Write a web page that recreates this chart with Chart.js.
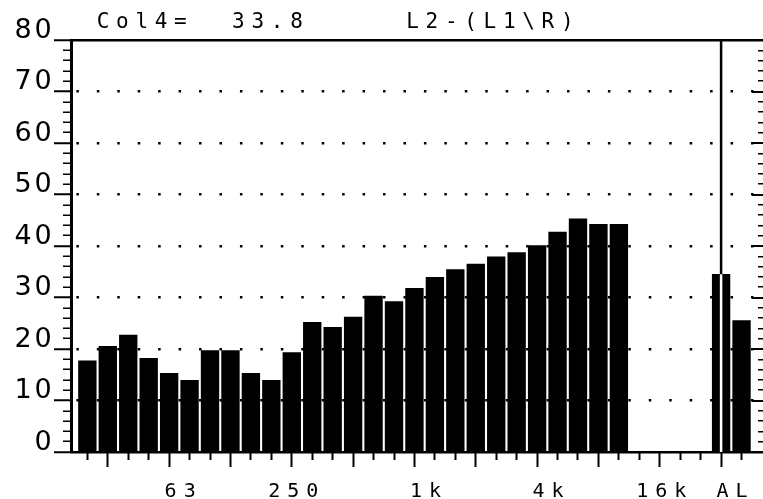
<!DOCTYPE html>
<html>
<head>
<meta charset="utf-8">
<script src="https://cdn.jsdelivr.net/npm/chart.js@4/dist/chart.umd.min.js"></script>
<style>
  html, body { margin: 0; padding: 0; background: #fff; }
  #c { display: block; }
</style>
</head>
<body>
<canvas id="c" width="763" height="499" style="width:763px;height:499px"></canvas>
<script>
// ---- data ----
const bands = ['25','31.5','40','50','63','80','100','125','160','200','250','315','400','500','630','800',
               '1k','1.25k','1.6k','2k','2.5k','3.15k','4k','5k','6.3k','8k','10k','12.5k','16k','20k','','A','L'];
const levels = [17.7, 20.5, 22.7, 18.2, 15.3, 13.9, 19.7, 19.7, 15.3, 13.9, 19.3, 25.2, 24.2, 26.2, 30.3, 29.2,
                31.8, 33.9, 35.4, 36.5, 37.9, 38.7, 40.1, 42.7, 45.3, 44.2, 44.2, null, null, null, null, 34.5, 25.5];
const labeledBands = ['63', '250', '1k', '4k', '16k', 'A'];
const labelTexts = [' 63', '250', ' 1k', ' 4k', '16k', ' AL'];
const longTickBands = ['31.5','63','125','250','500','1k','2k','4k','8k','16k','A'];
const yMin = 0, yMax = 80, yStep = 2, yLabelStep = 10;
const cursorBand = 'A';
const readoutLabel = 'Col4=';
const readoutValue = '33.8';
const modeLabel = 'L2-(L1\\R)';

const cursorIndex = bands.indexOf(cursorBand);
const titleText = '     ' + readoutLabel + '  ' + readoutValue + '     ' + modeLabel;

// letter spacing for the wide, monospaced instrument lettering
const spacingPlugin = {
  id: 'spacing',
  beforeDraw(chart) {
    const wrap = (obj, fn, sp) => {
      if (!obj || obj['_sp_' + fn]) return;
      const orig = obj[fn];
      obj[fn] = function (...args) {
        const ctx = this.ctx;
        const prev = ctx.letterSpacing;
        ctx.letterSpacing = sp + 'px';
        try { return orig.apply(this, args); } finally { ctx.letterSpacing = prev || '0px'; }
      };
      obj['_sp_' + fn] = true;
    };
    wrap(chart.titleBlock, 'draw', 6.7);
    wrap(chart.scales.x, 'drawLabels', 7.0);
    wrap(chart.scales.y, 'drawLabels', 2.8);
  }
};

const isMajor = (c) => c.tick && c.tick.value % yLabelStep === 0;

function dotOffset(c) {
  const xs = c.chart.scales.x;
  const start = c.chart.chartArea.left + 1.5;
  const step = xs.getPixelForValue(1) - xs.getPixelForValue(0);
  const first = xs.getPixelForValue(0.5) - 1.25;
  return ((step - ((first - start) % step)) % step + step) % step;
}
function dotDash(c) {
  if (!c.tick) return [];
  const v = c.tick.value;
  if (v === yMax || v === yMin) return [];
  const xs = c.chart.scales.x;
  const step = xs.getPixelForValue(1) - xs.getPixelForValue(0);
  return [2.5, step - 2.5];
}

new Chart(document.getElementById('c'), {
  type: 'bar',
  data: {
    datasets: [
      {
        type: 'line',
        data: [{ x: cursorIndex, y: yMin }, { x: cursorIndex, y: yMax }],
        borderColor: '#000', borderWidth: 2.5, pointRadius: 0, order: 3
      },
      {
        type: 'bar',
        data: bands.map((b, i) => ({ x: i, y: levels[i] })),
        backgroundColor: '#000', borderWidth: 0, barThickness: 17.7, order: 2
      },
      {
        type: 'line',
        data: [{ x: cursorIndex, y: yMin }, { x: cursorIndex, y: levels[cursorIndex] }],
        borderColor: '#fff', borderWidth: 2.5, pointRadius: 0, order: 1
      }
    ]
  },
  options: {
    responsive: false,
    animation: false,
    layout: { padding: 0 },
    plugins: {
      legend: { display: false },
      tooltip: { enabled: false },
      title: {
        display: true, text: titleText, align: 'start', color: '#000',
        font: { family: 'DejaVu Sans Mono', size: 21, weight: 'normal', lineHeight: 1.2 },
        padding: { top: 9.9, bottom: 4.9 }
      }
    },
    scales: {
      x: {
        type: 'linear', min: -0.8, max: 33.05, offset: false,
        afterBuildTicks: (s) => { s.ticks = bands.map((b, i) => ({ value: i })); },
        afterFit: (s) => { s.height = 47; },
        ticks: {
          autoSkip: false, maxRotation: 0, minRotation: 0, padding: 12.5, labelOffset: 5,
          color: '#000', font: { family: 'DejaVu Sans Mono', size: 20, lineHeight: 1.2 },
          callback: (v) => { const k = labeledBands.indexOf(bands[v]); return k >= 0 ? labelTexts[k] : ''; }
        },
        grid: {
          offset: false, drawOnChartArea: false, drawTicks: true, tickLength: 15,
          tickColor: '#000', tickWidth: 2,
          tickBorderDash: (c) => (c.tick && longTickBands.includes(bands[c.tick.value])) ? [] : [7, 100]
        },
        border: { display: true, color: '#000', width: 2 }
      },
      y: {
        min: yMin, max: yMax,
        afterFit: (s) => { s.width = 71; },
        ticks: {
          stepSize: yStep, autoSkip: false, padding: -0.5, labelOffset: -9.5,
          color: '#000', font: { family: 'DejaVu Sans', size: 27 },
          callback: (v) => (v % yLabelStep === 0 ? String(v) : '')
        },
        grid: {
          drawOnChartArea: true, drawTicks: true, tickLength: 17,
          color: (c) => (isMajor(c) ? '#000' : 'rgba(0,0,0,0)'),
          lineWidth: 2.5,
          tickColor: '#000',
          tickWidth: (c) => (isMajor(c) ? 2 : 1.5),
          tickBorderDash: (c) => (isMajor(c) ? [] : [0, 9, 8, 0])
        },
        border: { display: true, color: '#000', width: 3, dash: dotDash, dashOffset: dotOffset }
      },
      y2: {
        position: 'right', min: yMin, max: yMax,
        afterFit: (s) => { s.width = 0; },
        ticks: { display: false, stepSize: yStep, autoSkip: false },
        grid: {
          drawOnChartArea: true, drawTicks: false,
          color: '#000',
          lineWidth: (c) => (isMajor(c) ? 2 : 1.5)
        },
        border: {
          display: false,
          dash: (c) => {
            if (!c.tick) return [];
            const ca = c.chart.chartArea;
            const len = isMajor(c) ? 11 : 5;
            return [0, ca.right - ca.left - len, len, 0];
          }
        }
      }
    }
  },
  plugins: [spacingPlugin]
});
</script>
</body>
</html>
